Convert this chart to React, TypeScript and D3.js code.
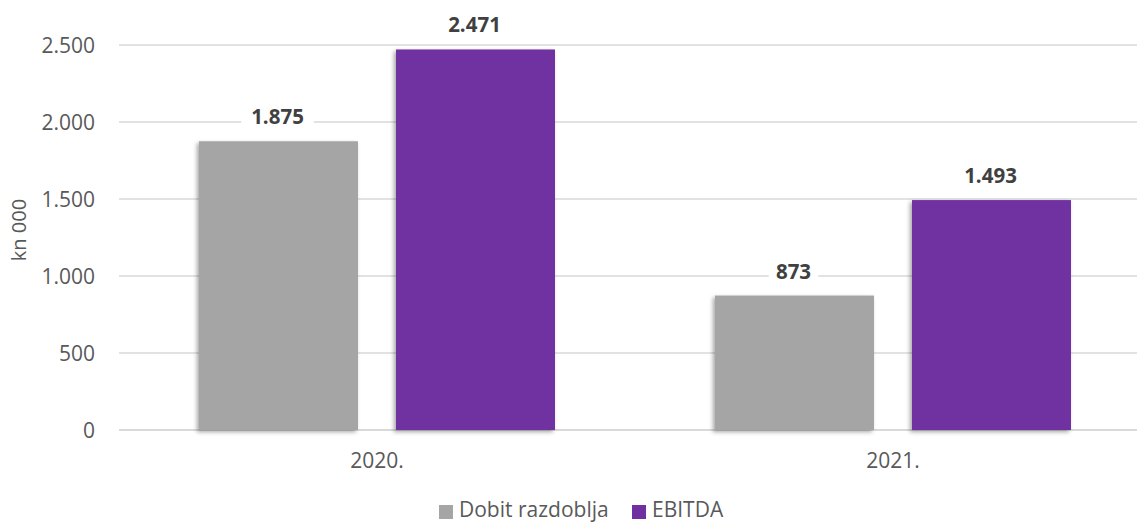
import React from "react";
import * as d3 from "d3";

const categories = ["2020.", "2021."];
const seriesNames = ["Dobit razdoblja", "EBITDA"];
const dobitValues = [1875, 873];
const ebitdaValues = [2471, 1493];
const yTicks = [0, 500, 1000, 1500, 2000, 2500];
const seriesColors = ["#A5A5A5", "#7030A0"];

const W = 1137;
const H = 522;
const FONT = "'Open Sans', 'Noto Sans', sans-serif";

const fmt = (v: number) => {
  const s = String(Math.round(v));
  return s.replace(/\B(?=(\d{3})+(?!\d))/g, ".");
};

export default function App() {
  const y = d3.scaleLinear().domain([0, 2500]).range([430, 45]);
  const x0 = d3.scaleBand<string>().domain(categories).range([119, 1151]).paddingInner(0).paddingOuter(0);
  const x1 = d3
    .scaleBand<string>()
    .domain(seriesNames)
    .range([80, 436])
    .paddingInner(38 / 197)
    .paddingOuter(0);
  const values = [dobitValues, ebitdaValues];

  return (
    <svg
      width={W}
      height={H}
      style={{ position: "absolute", left: 0, top: 0, background: "#fff" }}
      fontFamily={FONT}
    >
      <defs>
        <filter id="shadow" x="-10%" y="-10%" width="120%" height="120%">
          <feDropShadow dx={-2} dy={2} stdDeviation={2} floodColor="#000" floodOpacity={0.35} />
        </filter>
      </defs>
      {/* gridlines */}
      {yTicks.map((t) => (
        <line
          key={"g" + t}
          x1={119}
          x2={W}
          y1={y(t)}
          y2={y(t)}
          stroke="#D9D9D9"
          strokeWidth={t === 0 ? 2 : 1.3}
        />
      ))}
      {/* y tick labels */}
      {yTicks.map((t) => (
        <text
          key={"t" + t}
          x={95}
          y={y(t)}
          textAnchor="end"
          dominantBaseline="central"
          fontSize={21}
          fill="#595959"
        >
          {fmt(t)}
        </text>
      ))}
      {/* y axis title */}
      <text
        transform={`translate(18,230) rotate(-90)`}
        textAnchor="middle"
        dominantBaseline="central"
        fontSize={20}
        fill="#595959"
      >
        kn 000
      </text>
      {/* bars */}
      {categories.map((c, ci) => (
        <g key={c} transform={`translate(${x0(c)},0)`}>
          {seriesNames.map((s, si) => {
            const v = values[si][ci];
            return (
              <rect
                key={s}
                x={x1(s)}
                y={y(v)}
                width={x1.bandwidth()}
                height={y(0) - y(v)}
                fill={seriesColors[si]}
                filter="url(#shadow)"
              />
            );
          })}
        </g>
      ))}
      {/* data labels */}
      {categories.map((c, ci) =>
        seriesNames.map((s, si) => {
          const v = values[si][ci];
          const cx = (x0(c) as number) + (x1(s) as number) + x1.bandwidth() / 2;
          const cy = y(v) - 25;
          const label = fmt(v);
          const bw = label.length * 11.5 + 15;
          return (
            <g key={c + s}>
              <rect x={cx - bw / 2 - 1} y={cy - 12} width={bw} height={24} fill="#fff" />
              <text
                x={cx - 1}
                y={cy}
                textAnchor="middle"
                dominantBaseline="central"
                fontSize={20.5}
                fontWeight="bold"
                fill="#404040"
              >
                {label}
              </text>
            </g>
          );
        })
      )}
      {/* x labels */}
      {categories.map((c) => (
        <text
          key={"x" + c}
          x={(x0(c) as number) + x0.bandwidth() / 2}
          y={460}
          textAnchor="middle"
          dominantBaseline="central"
          fontSize={21}
          fill="#595959"
        >
          {c}
        </text>
      ))}
      {/* legend */}
      <rect x={439} y={505} width={14} height={14} fill={seriesColors[0]} />
      <text x={459} y={509} dominantBaseline="central" fontSize={21} fill="#595959">
        {seriesNames[0]}
      </text>
      <rect x={632} y={505} width={14} height={14} fill={seriesColors[1]} />
      <text x={652} y={509} dominantBaseline="central" fontSize={21} fill="#595959">
        {seriesNames[1]}
      </text>
    </svg>
  );
}
